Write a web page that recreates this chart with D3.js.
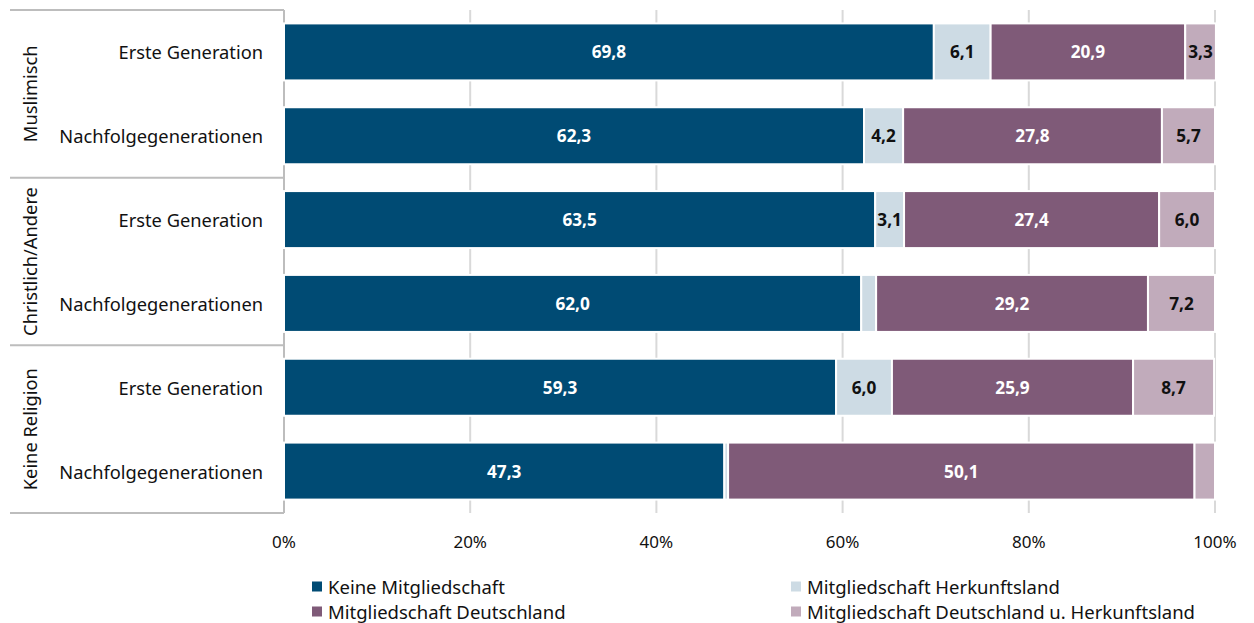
<!DOCTYPE html>
<html lang="de">
<head>
<meta charset="utf-8">
<script src="https://cdn.jsdelivr.net/npm/d3@7"></script>
<style>
  html, body { margin: 0; padding: 0; background: #fff; }
  svg text { font-family: "Noto Sans", "Open Sans", sans-serif; }
</style>
</head>
<body>
<svg id="chart" width="1254" height="623"></svg>
<script>
// Religious groups and generations (rows, top to bottom)
const groups = ["Muslimisch", "Christlich/Andere", "Keine Religion"];
const generations = ["Erste Generation", "Nachfolgegenerationen"];

// Series (stack order, left to right)
const seriesNames = [
  "Keine Mitgliedschaft",
  "Mitgliedschaft Herkunftsland",
  "Mitgliedschaft Deutschland",
  "Mitgliedschaft Deutschland u. Herkunftsland"
];

// Shares in percent, one entry per row
const keineMitgliedschaft = [69.8, 62.3, 63.5, 62.0, 59.3, 47.3];
const herkunftsland       = [6.1, 4.2, 3.1, 1.6, 6.0, 0.4];
const deutschland         = [20.9, 27.8, 27.4, 29.2, 25.9, 50.1];
const beide               = [3.3, 5.7, 6.0, 7.2, 8.7, 2.2];

const xTicks = [0, 20, 40, 60, 80, 100];

const colors = ["#004b74", "#cddbe4", "#7f5a78", "#c1abbb"];
const labelColors = ["#ffffff", "#111111", "#ffffff", "#111111"];

const rows = [];
groups.forEach((g, gi) => generations.forEach((gen, ki) => {
  const i = gi * generations.length + ki;
  rows.push({
    id: i, group: g, generation: gen,
    values: [keineMitgliedschaft[i], herkunftsland[i], deutschland[i], beide[i]]
  });
}));

const svg = d3.select("#chart");
const plotLeft = 284, plotRight = 1215, plotTop = 10, plotBottom = 513;

const x = d3.scaleLinear().domain([0, 100]).range([plotLeft, plotRight]);
const y = d3.scaleBand().domain(rows.map(d => d.id)).range([plotTop, plotBottom])
  .paddingInner(0.32).paddingOuter(0.16);

// Vertical gridlines
svg.append("g").selectAll("line").data(xTicks).join("line")
  .attr("x1", d => x(d)).attr("x2", d => x(d))
  .attr("y1", plotTop).attr("y2", plotBottom)
  .attr("stroke", d => d === 0 ? "#bdbdbd" : "#d9d9d9")
  .attr("stroke-width", 2);

// Stacked bars
const stackData = rows.map(r => {
  const o = { id: r.id };
  r.values.forEach((v, k) => o[k] = v);
  return o;
});
const stack = d3.stack().keys([0, 1, 2, 3]);
const layers = stack(stackData);

const bars = svg.append("g");
layers.forEach((layer, k) => {
  const g = bars.append("g");
  g.selectAll("rect").data(layer).join("rect")
    .attr("x", d => x(d[0]))
    .attr("y", d => y(d.data.id))
    .attr("width", d => Math.max(0, x(d[1]) - x(d[0])))
    .attr("height", y.bandwidth())
    .attr("fill", colors[k])
    .attr("stroke", "#fff")
    .attr("stroke-width", 2);
  g.selectAll("text").data(layer.filter(d => d.data[k] >= 3)).join("text")
    .attr("x", d => (x(d[0]) + x(d[1])) / 2)
    .attr("y", d => y(d.data.id) + y.bandwidth() / 2)
    .attr("text-anchor", "middle")
    .attr("dominant-baseline", "central")
    .attr("font-size", 17.2)
    .attr("font-weight", "bold")
    .attr("fill", labelColors[k])
    .text(d => d3.format(".1f")(d.data[k]).replace(".", ","));
});

// Row labels
svg.append("g").selectAll("text").data(rows).join("text")
  .attr("x", 263)
  .attr("y", d => y(d.id) + y.bandwidth() / 2)
  .attr("text-anchor", "end")
  .attr("dominant-baseline", "central")
  .attr("font-size", 18.3)
  .attr("fill", "#111")
  .text(d => d.generation);

// Group separators and rotated group labels
const groupStep = (plotBottom - plotTop) / groups.length;
const seps = d3.range(groups.length + 1).map(i => plotTop + i * groupStep);
svg.append("g").selectAll("line").data(seps).join("line")
  .attr("x1", 10).attr("x2", plotLeft)
  .attr("y1", d => d).attr("y2", d => d)
  .attr("stroke", "#bdbdbd").attr("stroke-width", 2);

svg.append("g").selectAll("text").data(groups).join("text")
  .attr("transform", (d, i) => `translate(29,${plotTop + (i + 0.5) * groupStep}) rotate(-90)`)
  .attr("text-anchor", "middle")
  .attr("dominant-baseline", "central")
  .attr("font-size", 18.3)
  .attr("fill", "#111")
  .text(d => d);

// X axis labels
svg.append("g").selectAll("text").data(xTicks).join("text")
  .attr("x", d => x(d))
  .attr("y", 541)
  .attr("text-anchor", "middle")
  .attr("dominant-baseline", "central")
  .attr("font-size", 17)
  .attr("fill", "#111")
  .text(d => d + "%");

// Legend
const legendPos = [[312, 586.5], [791, 586.5], [312, 611.5], [791, 611.5]];
const legend = svg.append("g").selectAll("g").data(seriesNames).join("g")
  .attr("transform", (d, i) => `translate(${legendPos[i][0]},${legendPos[i][1]})`);
legend.append("rect")
  .attr("x", 0).attr("y", -5).attr("width", 10).attr("height", 10)
  .attr("fill", (d, i) => colors[i]);
legend.append("text")
  .attr("x", 16).attr("y", 0)
  .attr("dominant-baseline", "central")
  .attr("font-size", 18.5)
  .attr("fill", "#111")
  .text(d => d);
</script>
</body>
</html>
